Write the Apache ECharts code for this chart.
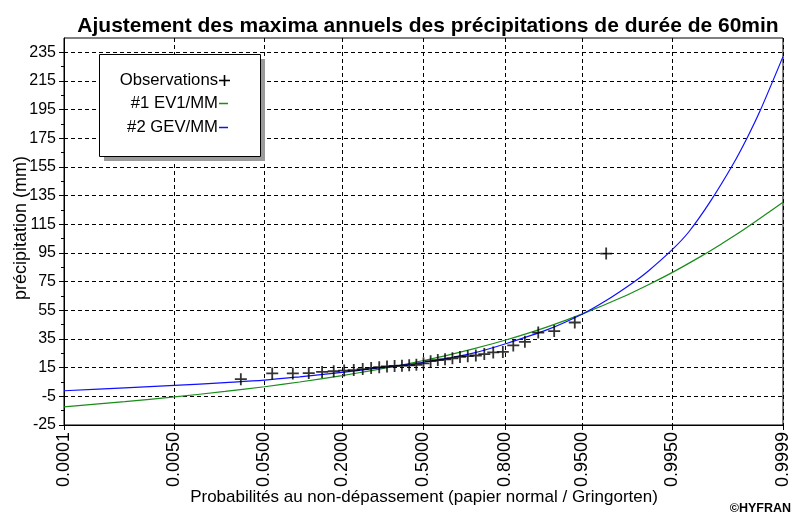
<!DOCTYPE html>
<html><head><meta charset="utf-8">
<script src="https://cdn.jsdelivr.net/npm/echarts@6/dist/echarts.min.js"></script>
<style>html,body{margin:0;padding:0;background:#fff}#c{width:792px;height:514px}</style>
</head><body><div id="c"></div>
<script>
// ---- data ----
const titleText = 'Ajustement des maxima annuels des précipitations de durée de 60min';
const xAxisTitle = 'Probabilités au non-dépassement (papier normal / Gringorten)';
const yAxisTitle = 'précipitation (mm)';
const xTickProbs = [0.0001, 0.0050, 0.0500, 0.2000, 0.5000, 0.8000, 0.9500, 0.9950, 0.9999];
const xTickLabels = ['0.0001', '0.0050', '0.0500', '0.2000', '0.5000', '0.8000', '0.9500', '0.9950', '0.9999'];
const yTickValues = [-25, -5, 15, 35, 55, 75, 95, 115, 135, 155, 175, 195, 215, 235];
const yMinorValues = [-15, 5, 25, 45, 65, 85, 105, 125, 145, 165, 185, 205, 225];
const legendLabels = ['Observations', '#1 EV1/MM', '#2 GEV/MM'];

const obsProb = [0.0294, 0.0588, 0.0882, 0.1176, 0.1471, 0.1765, 0.2059, 0.2353, 0.2647, 0.2941, 0.3235,
  0.3529, 0.3824, 0.4118, 0.4412, 0.4706, 0.5000, 0.5294, 0.5588, 0.5882, 0.6176, 0.6471,
  0.6765, 0.7059, 0.7353, 0.7647, 0.7941, 0.8235, 0.8529, 0.8824, 0.9118, 0.9412, 0.9706];
const obsValue = [7, 11, 11, 11.2, 12, 12.5, 13, 13.3, 14, 14.8, 15.3,
  15.8, 16.2, 16.4, 16.6, 17, 18, 19.5, 20.3, 20.8, 21.5, 22.5,
  23, 23.5, 24.5, 25.6, 26, 30.5, 33, 39.5, 40.5, 46.5, 94.6];

const ev1Prob = [0.0001, 0.001, 0.005, 0.02, 0.05, 0.1, 0.2, 0.3, 0.4, 0.5, 0.6, 0.7, 0.8, 0.9, 0.95, 0.98, 0.99, 0.995, 0.998, 0.999, 0.9995, 0.9999];
const ev1Value = [-12.3, -8.7, -5.4, -1.6, 1.7, 5.0, 9.5, 13.1, 16.5, 20.0, 23.8, 28.3, 34.1, 43.5, 52.5, 64.1, 72.9, 81.5, 93.0, 101.7, 110.3, 130.4];

const gevProb = [0.0001, 0.001, 0.005, 0.02, 0.05, 0.1, 0.2, 0.3, 0.4, 0.5, 0.6, 0.7, 0.8, 0.9, 0.95, 0.97, 0.985, 0.99, 0.995, 0.997, 0.9985, 0.9993, 0.9996, 0.99975, 0.9999];
const gevValue = [-1.1, 0.9, 2.6, 4.6, 6.3, 8.6, 11.7, 14.3, 16.5, 18.8, 21.6, 25.3, 31.5, 41.5, 52.5, 61.5, 74.5, 82.5, 97.5, 110, 131, 156, 176, 194, 232];

// ---- normal probability scale (inverse normal CDF) ----
function probit(p) {
  const a = [-3.969683028665376e+01, 2.209460984245205e+02, -2.759285104469687e+02, 1.383577518672690e+02, -3.066479806614716e+01, 2.506628277459239e+00];
  const b = [-5.447609879822406e+01, 1.615858368580409e+02, -1.556989798598866e+02, 6.680131188771972e+01, -1.328068155288572e+01];
  const c = [-7.784894002430293e-03, -3.223964580411365e-01, -2.400758277161838e+00, -2.549732539343734e+00, 4.374664141464968e+00, 2.938163982698783e+00];
  const d = [7.784695709041462e-03, 3.224671290700398e-01, 2.445134137142996e+00, 3.754408661907416e+00];
  const pl = 0.02425, ph = 1 - pl;
  let q, r;
  if (p < pl) { q = Math.sqrt(-2 * Math.log(p)); return (((((c[0]*q+c[1])*q+c[2])*q+c[3])*q+c[4])*q+c[5]) / ((((d[0]*q+d[1])*q+d[2])*q+d[3])*q+1); }
  if (p > ph) { q = Math.sqrt(-2 * Math.log(1 - p)); return -(((((c[0]*q+c[1])*q+c[2])*q+c[3])*q+c[4])*q+c[5]) / ((((d[0]*q+d[1])*q+d[2])*q+d[3])*q+1); }
  q = p - 0.5; r = q * q;
  return (((((a[0]*r+a[1])*r+a[2])*r+a[3])*r+a[4])*r+a[5])*q / (((((b[0]*r+b[1])*r+b[2])*r+b[3])*r+b[4])*r+1);
}
const xTickZ = xTickProbs.map(probit);
const xMin = xTickZ[0], xMax = xTickZ[xTickZ.length - 1];
const zip = (ps, vs) => ps.map((p, i) => [probit(p), vs[i]]);

const FONT = '"Liberation Sans", Arial, sans-serif';
const G = { left: 64, right: 8, top: 38, bottom: 89 };
const dashed = { color: '#000', width: 1, type: [4, 3] };

const chart = echarts.init(document.getElementById('c'), null, { renderer: 'canvas' });
chart.setOption({
  animation: false,
  backgroundColor: '#fff',
  title: {
    text: titleText, left: 423, top: 11, textAlign: 'center',
    textStyle: { fontFamily: FONT, fontSize: 21, fontWeight: 'bold', color: '#000' }
  },
  grid: [
    Object.assign({ show: true, borderColor: '#000', borderWidth: 1, backgroundColor: '#fff' }, G),
    Object.assign({ show: false }, G)
  ],
  xAxis: [{
    type: 'value', gridIndex: 0, min: xMin, max: xMax,
    axisLine: { show: true, onZero: false, lineStyle: { color: '#000', width: 1 } },
    axisTick: { show: true, customValues: xTickZ, length: 5, lineStyle: { color: '#000' } },
    axisLabel: {
      customValues: xTickZ, rotate: 90, margin: 7, color: '#000', fontFamily: FONT, fontSize: 18,
      formatter: v => {
        let best = 0;
        xTickZ.forEach((z, i) => { if (Math.abs(z - v) < Math.abs(xTickZ[best] - v)) best = i; });
        return xTickLabels[best];
      }
    },
    splitLine: { show: true, lineStyle: dashed }
  }, {
    type: 'value', gridIndex: 1, min: xMin, max: xMax, show: false
  }],
  yAxis: [{
    type: 'value', gridIndex: 0, min: -25, max: 245,
    axisLine: { show: true, onZero: false, lineStyle: { color: '#000', width: 1 } },
    axisTick: { show: true, customValues: yTickValues, length: 5, lineStyle: { color: '#000' } },
    axisLabel: { customValues: yTickValues, margin: 8, color: '#000', fontFamily: FONT, fontSize: 16 },
    splitLine: { show: true, lineStyle: dashed }
  }, {
    type: 'value', gridIndex: 1, min: -25, max: 245, position: 'left',
    axisLine: { show: false, onZero: false },
    axisTick: { show: true, customValues: yMinorValues, length: 3, lineStyle: { color: '#000' } },
    axisLabel: { show: false },
    splitLine: { show: false }
  }],
  series: [{
    name: legendLabels[1], type: 'line', xAxisIndex: 0, yAxisIndex: 0,
    data: zip(ev1Prob, ev1Value), showSymbol: false, smooth: 0.3,
    lineStyle: { color: '#1a8c1a', width: 1.2 }, z: 3
  }, {
    name: legendLabels[2], type: 'line', xAxisIndex: 0, yAxisIndex: 0,
    data: zip(gevProb, gevValue), showSymbol: false, smooth: 0.3,
    lineStyle: { color: '#1010ff', width: 1.2 }, z: 4
  }, {
    name: legendLabels[0], type: 'scatter', xAxisIndex: 0, yAxisIndex: 0,
    data: zip(obsProb, obsValue),
    symbol: 'path://M0,5.1H12V6.9H0Z M5.1,0H6.9V12H5.1Z', symbolSize: 12,
    itemStyle: { color: '#000' }, z: 5
  }],
  graphic: [
    { type: 'rect', shape: { x: 104, y: 59, width: 161, height: 102 }, style: { fill: '#9a9a9a' }, z: 50 },
    { type: 'rect', shape: { x: 99.5, y: 54.5, width: 161, height: 102 }, style: { fill: '#fff', stroke: '#000', lineWidth: 1 }, z: 51 },
    { type: 'text', x: 218, y: 80, style: { text: legendLabels[0], font: '16.7px ' + FONT, fill: '#000', align: 'right', verticalAlign: 'middle' }, z: 52 },
    { type: 'line', shape: { x1: 219, y1: 80.5, x2: 230, y2: 80.5 }, style: { stroke: '#000', lineWidth: 1.6 }, z: 52 },
    { type: 'line', shape: { x1: 224.5, y1: 75, x2: 224.5, y2: 86 }, style: { stroke: '#000', lineWidth: 1.6 }, z: 52 },
    { type: 'text', x: 218, y: 103, style: { text: legendLabels[1], font: '16.7px ' + FONT, fill: '#000', align: 'right', verticalAlign: 'middle' }, z: 52 },
    { type: 'line', shape: { x1: 219, y1: 103.5, x2: 228, y2: 103.5 }, style: { stroke: '#1a8c1a', lineWidth: 1.5 }, z: 52 },
    { type: 'text', x: 218, y: 127, style: { text: legendLabels[2], font: '16.7px ' + FONT, fill: '#000', align: 'right', verticalAlign: 'middle' }, z: 52 },
    { type: 'line', shape: { x1: 219, y1: 127.5, x2: 228, y2: 127.5 }, style: { stroke: '#1010ff', lineWidth: 1.5 }, z: 52 },
    { type: 'text', x: 424, y: 497, style: { text: xAxisTitle, font: '17px ' + FONT, fill: '#000', align: 'center', verticalAlign: 'middle' }, z: 52 },
    { type: 'text', x: 21, y: 228, rotation: Math.PI / 2, style: { text: yAxisTitle, font: '18px ' + FONT, fill: '#000', align: 'center', verticalAlign: 'middle' }, z: 52 },
    { type: 'text', x: 791, y: 509, style: { text: '©HYFRAN', font: 'bold 12.5px ' + FONT, fill: '#000', align: 'right', verticalAlign: 'middle' }, z: 52 }
  ]
});
</script>
</body></html>
